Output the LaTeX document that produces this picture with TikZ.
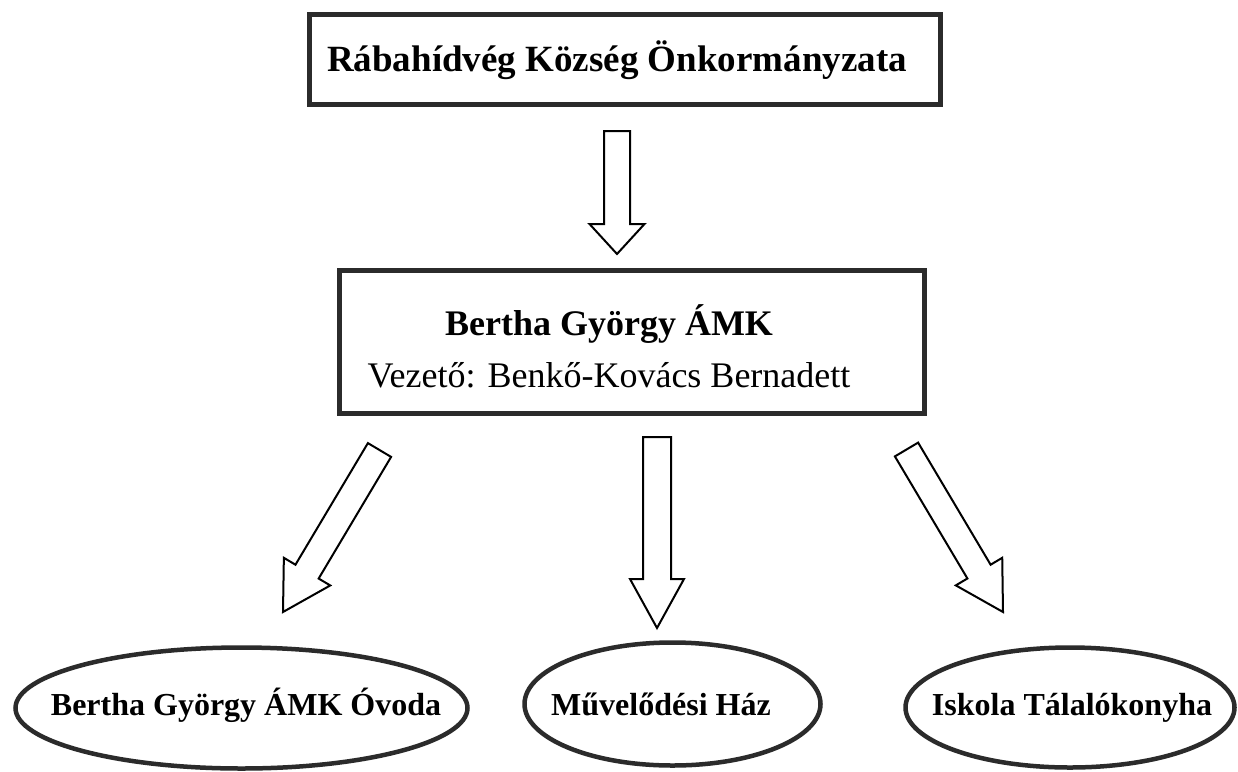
\documentclass[tikz,border=0pt]{standalone}
\usepackage{fontspec}
\setmainfont{Liberation Serif}
\usetikzlibrary{shapes.geometric,calc}
\definecolor{framecol}{HTML}{2B2B2B}
\newcommand\blockarrow[5]{%
  \coordinate (#1base) at ($(#2)!#5!(#1)$);
  \draw[arrowline]
    ($(#1)!#3!90:(#2)$) --
    ($(#1base)!#3!-90:(#1)$) --
    ($(#1base)!#4!-90:(#1)$) --
    (#2) --
    ($(#1base)!#4!90:(#1)$) --
    ($(#1base)!#3!90:(#1)$) --
    ($(#1)!#3!-90:(#2)$) -- cycle;
}
\begin{document}
\begin{tikzpicture}[x=1pt,y=-1pt,
  framebox/.style={draw=framecol, line width=5pt, inner sep=0pt},
  ovalbox/.style={ellipse, draw=framecol, line width=4.5pt, inner sep=0pt},
  arrowline/.style={draw=black, fill=white, line width=2pt, line join=miter},
  bigbold/.style={font=\fontsize{37}{44}\selectfont\bfseries, inner sep=0pt, anchor=base},
  midbold/.style={font=\fontsize{36}{43}\selectfont\bfseries, inner sep=0pt, anchor=base},
  midreg/.style={font=\fontsize{36}{43}\selectfont, inner sep=0pt, anchor=base},
  ovaltext/.style={font=\fontsize{32}{38}\selectfont\bfseries, inner sep=0pt, anchor=base}
]
\useasboundingbox (0,0) rectangle (1238,771);
\fill[white] (0,0) rectangle (1238,771);

% boxes
\node[framebox, minimum width=631pt, minimum height=90pt] (top) at (625,59.5) {};
\node[bigbold] (toptext) at (617,71) {Rábahídvég Község Önkormányzata};

\node[framebox, minimum width=585pt, minimum height=143pt] (mid) at (632,342) {};
\node[midbold] (midtitle) at (609,335) {Bertha György ÁMK};
\node[midreg] (midsub) at (609,387) {Vezető: Benkő-Kovács Bernadett};

% ellipses
\node[ovalbox, minimum width=452pt, minimum height=121pt] (e1) at (241.5,708) {};
\node[ovaltext] (t1) at (246,715) {Bertha György ÁMK Óvoda};
\node[ovalbox, minimum width=296pt, minimum height=123pt] (e2) at (672.5,704) {};
\node[ovaltext] (t2) at (661,715) {Művelődési Ház};
\node[ovalbox, minimum width=329pt, minimum height=120pt] (e3) at (1070,707.5) {};
\node[ovaltext] (t3) at (1072,715) {Iskola Tálalókonyha};

% arrows
\coordinate (a0) at (617,131);   \coordinate (a0h) at (617,254);
\coordinate (a1) at (379.5,450); \coordinate (a1h) at (283,612);
\coordinate (a2) at (657,437);   \coordinate (a2h) at (657,628);
\coordinate (a3) at (906.5,449.5); \coordinate (a3h) at (1003,612);
\blockarrow{a0}{a0h}{13pt}{27.5pt}{30pt}
\blockarrow{a1}{a1h}{13.5pt}{27pt}{47pt}
\blockarrow{a2}{a2h}{14pt}{27pt}{49pt}
\blockarrow{a3}{a3h}{13.5pt}{27pt}{47pt}
\end{tikzpicture}
\end{document}
